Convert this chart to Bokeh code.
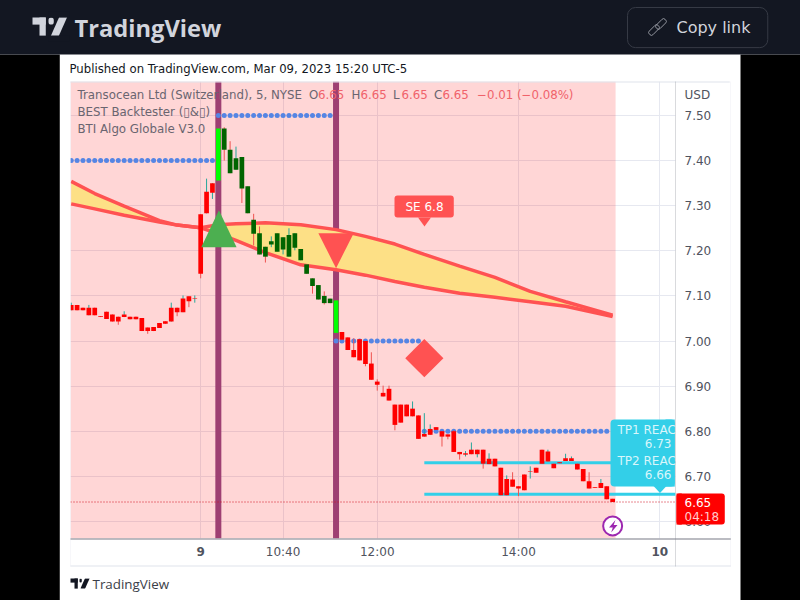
import math
from bokeh.plotting import figure
from bokeh.embed import file_html
from bokeh.resources import INLINE
from bokeh.models import (Range1d, FixedTicker, Label, PolyAnnotation, Span, ColumnDataSource, NumeralTickFormatter)

# ---- data -------------------------------------------------------------
body_top = [7.080,7.080,7.074,7.074,7.074,7.055,7.065,7.059,7.054,7.059,
            7.054,7.054,7.051,7.030,7.031,7.040,7.044,7.074,7.074,7.094,
            7.099,7.094,7.281,7.331,7.350,7.471,7.471,7.424,7.405,7.408,
            7.343,7.269,7.239,7.209,7.221,7.239,7.230,7.235,7.239,7.204,
            7.170,7.139,7.124,7.100,7.094,7.090,7.020,7.008,6.980,7.004,
            7.000,6.950,6.910,6.885,6.894,6.859,6.859,6.859,6.850,6.835,
            6.794,6.805,6.809,6.800,6.793,6.800,6.754,6.751,6.759,6.759,
            6.759,6.739,6.739,6.719,6.694,6.693,6.678,6.704,6.711,6.719,
            6.759,6.755,6.728,6.731,6.740,6.740,6.728,6.716,6.689,6.676,
            6.685,6.678,6.650]
body_bottom = [7.068,7.068,7.068,7.057,7.057,7.053,7.049,7.043,7.043,7.053,
               7.048,7.048,7.022,7.022,7.022,7.029,7.038,7.043,7.064,7.064,
               7.088,7.093,7.149,7.283,7.329,7.356,7.424,7.372,7.380,7.338,
               7.283,7.238,7.192,7.187,7.214,7.198,7.203,7.187,7.207,7.179,
               7.149,7.122,7.092,7.084,7.084,7.018,7.003,6.980,6.964,6.957,
               6.949,6.914,6.903,6.877,6.868,6.814,6.819,6.833,6.833,6.783,
               6.788,6.792,6.803,6.788,6.788,6.754,6.749,6.748,6.749,6.749,
               6.728,6.727,6.722,6.658,6.658,6.677,6.673,6.669,6.710,6.708,
               6.728,6.733,6.718,6.729,6.734,6.734,6.715,6.689,6.673,6.674,
               6.674,6.649,6.643]
wick_high = {0:7.085,3:7.080,9:7.066,17:7.085,19:7.101,21:7.101,23:7.360,26:7.474,27:7.443,28:7.431,
             31:7.282,32:7.254,34:7.232,37:7.250,43:7.110,48:7.006,51:6.975,52:6.915,53:6.901,54:6.901,
             58:6.866,60:6.840,61:6.815,65:6.802,67:6.756,68:6.775,71:6.751,74:6.702,75:6.709,78:6.722,
             81:6.759,84:6.750,85:6.744,88:6.709,90:6.694}
wick_low = {8:7.036,13:7.016,18:7.055,20:7.075,21:7.085,22:7.139,24:7.315,26:7.400,29:7.306,31:7.212,
            33:7.174,34:7.208,36:7.192,38:7.201,41:7.105,43:7.081,50:6.944,52:6.890,55:6.802,63:6.766,
            64:6.782,66:6.737,67:6.744,69:6.742,70:6.717,76:6.656,78:6.695}
teal_wicks = [0,3,9,17,19,21,23,24,28,34,36,37,38,58,60,61,67,68,69,71,74,78,81,84,85,90]
bar_colors = ["#ff0000"]*25 + ["#00ff00"] + ["#006400"]*19 + ["#00ff00"] + ["#ff0000"]*47

ma_bars = [0,4,9,15,18,22,25,28,33,39,45,50,55,60,66,72,78,84,92]
ma_fast = [7.354,7.327,7.299,7.267,7.257,7.251,7.238,7.223,7.196,7.169,7.158,7.146,7.132,7.119,7.106,7.097,7.087,7.077,7.054]
ma_slow = [7.304,7.293,7.279,7.264,7.257,7.251,7.258,7.260,7.262,7.258,7.247,7.232,7.215,7.192,7.166,7.141,7.110,7.087,7.057]

signal_bars = [25, 45]
stop_levels = [(0, 24, 7.40), (25, 44, 7.50), (45, 59, 7.00), (60, 91, 6.80)]
tp_levels = [6.73, 6.66]
tp_start_bar = 60
last_price = 6.643
session_end_bar = 92.5

price_ticks = [6.6,6.7,6.8,6.9,7.0,7.1,7.2,7.3,7.4,7.5]
time_ticks = [36, 52, 76]
time_labels = {36:"10:40", 52:"12:00", 76:"14:00"}
day_ticks = [22, 100]
day_labels = ["9", "10"]

# ---- figure -----------------------------------------------------------
W, H = 800, 600
ymin, ymax = 6.5621, 7.5754
xmin, xmax = -0.12, 102.68

p = figure(width=W, height=H, output_backend="svg", toolbar_location=None,
           x_range=Range1d(xmin, xmax), y_range=Range1d(ymin, ymax),
           x_axis_location="below", y_axis_location="right",
           min_border_left=70, min_border_right=125, min_border_top=81, min_border_bottom=62,
           frame_width=605, frame_height=457, border_fill_color="#ffffff", background_fill_color="#ffffff")
p.outline_line_color = None

ax = p.xaxis[0]
ax.ticker = FixedTicker(ticks=time_ticks)
ax.major_label_overrides = time_labels
ax.axis_line_color = None
ax.major_tick_line_color = None
ax.major_tick_out = 0
ax.minor_tick_line_color = None
ax.major_label_text_color = "#50535e"
ax.major_label_text_font = "DejaVu Sans"
ax.major_label_text_font_size = "12px"
ax.major_label_standoff = 6

ay = p.yaxis[0]
ay.ticker = FixedTicker(ticks=price_ticks)
ay.formatter = NumeralTickFormatter(format="0.00")
ay.axis_line_color = None
ay.major_tick_line_color = None
ay.major_tick_out = 0
ay.minor_tick_line_color = None
ay.major_label_text_color = "#50535e"
ay.major_label_text_font = "DejaVu Sans"
ay.major_label_text_font_size = "12px"
ay.major_label_standoff = 9

p.xgrid[0].ticker = FixedTicker(ticks=day_ticks + time_ticks)
p.xgrid[0].grid_line_color = "#e6e8f0"
p.ygrid[0].grid_line_color = "#e6e8f0"
p.ygrid[0].ticker = FixedTicker(ticks=price_ticks)

# session shading
p.quad(left=[xmin], right=[session_end_bar], bottom=[ymin], top=[ymax], fill_color="#ff0000", fill_alpha=0.16, line_color=None)
# signal bars
p.vbar(x=signal_bars, bottom=ymin, top=ymax, width=1.02, fill_color="#9e3f72", line_color=None)
# moving-average cloud
p.varea(x=ma_bars, y1=ma_fast, y2=ma_slow, fill_color="#fde086")
p.line(ma_bars, ma_fast, line_color="#ff5252", line_width=3.5)
p.line(ma_bars, ma_slow, line_color="#ff5252", line_width=3.5)
# TP lines
for lv in tp_levels:
    p.segment([tp_start_bar], [lv], [xmax], [lv], line_color="#33cfe8", line_width=3)
# stop dots
for a, b, lv in stop_levels:
    bars = list(range(a, b + 1))
    p.scatter(bars, [lv]*len(bars), marker="circle", size=5, fill_color="#5585e4", line_color=None)

# candles
n = len(body_top)
bars = list(range(n))
highs = [wick_high.get(i, body_top[i]) for i in bars]
lows = [wick_low.get(i, body_bottom[i]) for i in bars]
wcol = ["#26a69a" if i in teal_wicks else "#ef5350" for i in bars]
src = ColumnDataSource(dict(x=bars, top=body_top, bottom=body_bottom, high=highs, low=lows, color=bar_colors, wick=wcol))
p.segment("x", "low", "x", "high", source=src, line_color="wick", line_width=1)
p.vbar("x", top="top", bottom="bottom", width=0.8, source=src, fill_color="color", line_color=None)

# entry / exit markers
buy_bar, buy_base, buy_apex = 25.1, 7.208, 7.290
sell_bar, sell_base, sell_apex = 45, 7.239, 7.1615
half = 3.0
p.patch([buy_bar-half, buy_bar+half, buy_bar], [buy_base, buy_base, buy_apex], fill_color="#4caf50", line_color=None)
p.patch([sell_bar-half, sell_bar+half, sell_bar], [sell_base, sell_base, sell_apex], fill_color="#ff5252", line_color=None)
p.scatter([60], [6.962], marker="square", size=27, angle=math.pi/4, fill_color="#ff5252", line_color=None)
p.scatter([92], [6.590], marker="circle", size=19, fill_color="#ffffff", line_color="#9c27b0", line_width=2)
p.add_layout(Span(location=last_price, dimension="width", line_color="#d01020", line_width=1, line_dash="1 2"))

# ---- page furniture, canvas coordinates (panel labels are not clipped to the frame) ---
def rect(x0, y0, x1, y1, fill=None, line=None, radius=0, lw=1, angle=0.0, center=False):
    w, h = x1 - x0, y1 - y0
    pad = dict(left=int(round(max(w - 1, 0))), right=0, top=int(round(max(h - 1, 0))), bottom=0)
    p.add_layout(Label(x=(x0 + x1)/2 if center else x0, y=(y0 + y1)/2 if center else y0,
                       x_units="canvas", y_units="canvas", text=" ", text_font_size="1px",
                       text_color=fill or line,
                       padding=pad, anchor="center" if center else "top_left", angle=angle,
                       background_fill_color=fill, background_fill_alpha=1 if fill else 0,
                       border_line_color=line, border_line_width=lw, border_line_alpha=1 if line else 0,
                       border_radius=radius, level="annotation"), "below")

def poly(pts, fill=None, line=None, lw=1):
    a = PolyAnnotation(xs=[q[0] for q in pts], ys=[q[1] for q in pts],
                       xs_units="canvas", ys_units="canvas",
                       fill_color=fill, fill_alpha=1 if fill else 0, line_color=line, line_width=lw,
                       line_alpha=1 if line else 0, level="annotation")
    p.add_layout(a, "below")

def text(x, y, s, color="#131722", size=12.0, font="DejaVu Sans", align="left", style="normal", xdata=False):
    p.add_layout(Label(x=x, y=y, x_units="data" if xdata else "canvas", y_units="canvas",
                       text=s, text_color=color, text_font_size=f"{size}px", text_font=font,
                       text_align=align, text_baseline="middle", text_font_style=style,
                       level="annotation"), "below")

# outer frame
rect(-3, 54, 60, 603, fill="#000000")
rect(740, 54, 803, 603, fill="#000000")
rect(-3, -3, 803, 54, fill="#131722")
# chart panel border
rect(70, 81, 730, 82, fill="#e0e3eb")
rect(70, 81, 71, 566, fill="#e0e3eb")
rect(730, 81, 731, 566, fill="#e0e3eb")
rect(70, 565, 731, 566, fill="#e0e3eb")
rect(675, 81, 676, 566, fill="#787b86")
rect(70, 538, 731, 539, fill="#787b86")

# SE flag
rect(394, 195, 454, 217, fill="#ff5252", radius=3)
poly([(417.5, 217), (430.5, 217), (424, 226)], fill="#ff5252")
text(424, 206, "SE 6.8", color="#ffffff", align="center")

# TP flag
rect(610, 419, 675, 486, fill="#33cfe8", radius=4)
rect(665, 419, 675, 486, fill="#33cfe8")
poly([(653, 485.5), (666, 485.5), (659.5, 492.5)], fill="#33cfe8")
text(617, 429, "TP1 REAC", color="#d9f6fb")
text(671, 443, "6.73", color="#d9f6fb", align="right")
text(617, 460, "TP2 REAC", color="#d9f6fb")
text(671, 474, "6.66", color="#d9f6fb", align="right")

# last-price tag
rect(676, 493, 725, 524, fill="#ff0000", radius=3)
rect(676, 493, 682, 524, fill="#ff0000")
text(684, 502, "6.65", color="#ffffff")
text(684, 516, "04:18", color="#ffcccc")
text(684, 94, "USD", color="#50535e")

# lightning
poly([(615, 519.5), (608.5, 527), (612.3, 527), (610.7, 532), (617, 524.5), (613.2, 524.5)], fill="#9c27b0")

# legend
lg = "#6a6570"; rd = "#f0626a"
text(77, 94, "Transocean Ltd (Switzerland), 5, NYSE", color=lg, size=11.8)
for xx, letter, vx in [(308.5, "O", 317.5), (351, "H", 360), (392.5, "L", 401), (433.5, "C", 442)]:
    text(xx, 94, letter, color=lg, size=11.8)
    text(vx, 94, "6.65", color=rd, size=11.8)
text(476.5, 94, "\u22120.01 (\u22120.08%)", color=rd, size=11.8)
text(77, 111, "BEST Backtester (\u25af&\u25af)", color=lg, size=11.8)
text(77, 128, "BTI Algo Globale V3.0", color=lg, size=11.8)

# texts around the chart
text(69, 68, "Published on TradingView.com, Mar 09, 2023 15:20 UTC-5", color="#131722", size=11.7)
for b, lab in zip(day_ticks, day_labels):
    text(b, 551, lab, color="#50535e", align="center", style="bold", xdata=True)

# logos
def logo(x0, y0, s, color, bg):
    rect(x0, y0, x0 + round(14*s), y0 + round(7*s), fill=color)
    rect(x0 + round(7*s), y0, x0 + round(14*s), y0 + round(18*s), fill=color)
    rect(x0 + round(15.5*s), y0, x0 + round(22.5*s), y0 + round(7*s), fill=color, radius=round(3.5*s))
    # slanted stroke, with its ends trimmed flat by the background colour
    L = round(24*s); T = round(8.5*s)
    rect(x0 + 26.5*s - T/2, y0 + 9*s - L/2, x0 + 26.5*s + T/2, y0 + 9*s + L/2, fill=color, angle=-math.atan2(8, 18), center=True)
    rect(x0 + round(16*s), y0 - round(6*s), x0 + round(38*s), y0, fill=bg)
    rect(x0 + round(16*s), y0 + round(18*s), x0 + round(38*s), y0 + round(24*s), fill=bg)

logo(32, 17, 1.0, "#d1d4dc", "#131722")
text(74, 27, "TradingView", color="#d1d4dc", size=23.7, font="Open Sans", style="bold")
logo(70, 578, 0.55, "#131722", "#ffffff")
text(92, 583, "TradingView", color="#3b3e48", size=13.4, font="Open Sans")

# copy-link button
rect(627, 7, 768, 47, line="#363a45", radius=8, lw=1)
text(676, 27, "Copy link", color="#d1d4dc", size=16)
rect(647, 27, 660, 32, line="#9598a1", radius=2, angle=math.pi/4, center=True)
rect(654, 21, 667, 26, line="#9598a1", radius=2, angle=math.pi/4, center=True)

open("out.html", "w").write(file_html(p, INLINE))
